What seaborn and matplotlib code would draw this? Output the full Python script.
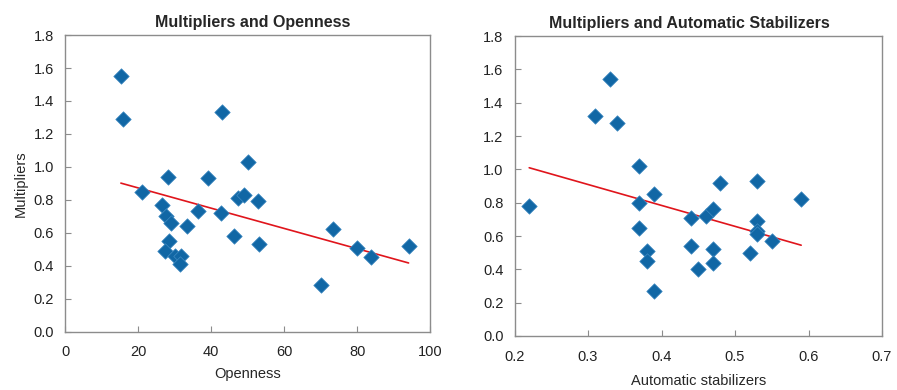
import numpy as np
import pandas as pd
import matplotlib
matplotlib.use("Agg")
import matplotlib.pyplot as plt
import seaborn as sns
from matplotlib import font_manager

# ---------------- data ----------------
openness = [15.3, 16.0, 21.0, 28.1, 26.5, 27.7, 29.1, 28.6, 27.4, 30.2, 31.9, 31.6,
            33.5, 36.4, 39.1, 42.9, 42.7, 46.3, 47.4, 49.0, 50.1, 52.8, 53.2,
            70.1, 73.5, 80.1, 83.9, 94.1]
mult_open = [1.55, 1.29, 0.85, 0.94, 0.77, 0.70, 0.66, 0.55, 0.49, 0.46, 0.46, 0.41,
             0.64, 0.73, 0.93, 1.33, 0.72, 0.58, 0.81, 0.83, 1.03, 0.79, 0.53,
             0.28, 0.62, 0.51, 0.45, 0.52]

stabilizers = [0.22, 0.31, 0.33, 0.34, 0.37, 0.37, 0.39, 0.37, 0.38, 0.38, 0.39,
               0.44, 0.44, 0.45, 0.46, 0.47, 0.47, 0.47, 0.48, 0.52, 0.53, 0.53,
               0.53, 0.53, 0.55, 0.59]
mult_stab = [0.78, 1.32, 1.54, 1.28, 1.02, 0.80, 0.85, 0.65, 0.51, 0.45, 0.27,
             0.71, 0.54, 0.40, 0.72, 0.76, 0.52, 0.44, 0.92, 0.50, 0.93, 0.69,
             0.63, 0.61, 0.57, 0.82]

titles = ["Multipliers and Openness", "Multipliers and Automatic Stabilizers"]
xlabels = ["Openness", "Automatic stabilizers"]
ylabel = "Multipliers"
yticks = [0.0, 0.2, 0.4, 0.6, 0.8, 1.0, 1.2, 1.4, 1.6, 1.8]
xticks_left = [0, 20, 40, 60, 80, 100]
xticks_right = [0.2, 0.3, 0.4, 0.5, 0.6, 0.7]

# ---------------- style ----------------
sns.set_style("white")
names = {f.name for f in font_manager.fontManager.ttflist}
fam = ["Liberation Sans Narrow", "Liberation Sans", "DejaVu Sans"]
fam = [f for f in fam if f in names] or ["DejaVu Sans"]
plt.rcParams["font.family"] = fam

MARK = "#1167a5"
LINE = "#e0151c"
GREY = "#8c8c8c"

fig = plt.figure(figsize=(8.97, 3.90), dpi=100)
axL = fig.add_axes([0.0725, 0.150, 0.407, 0.760])
axR = fig.add_axes([0.5736, 0.1385, 0.4097, 0.769])

df_l = pd.DataFrame({"x": openness, "y": mult_open})
df_r = pd.DataFrame({"x": stabilizers, "y": mult_stab})

for ax, df, title, xl, xt, xfmt, tx, lp in [
    (axL, df_l, titles[0], xlabels[0], xticks_left, "{:.0f}", 0.515, 5.5),
    (axR, df_r, titles[1], xlabels[1], xticks_right, "{:.1f}", 0.475, 7.5),
]:
    sns.regplot(data=df, x="x", y="y", ax=ax, scatter=False, ci=None,
                line_kws=dict(color=LINE, lw=1.2, zorder=3))
    sns.scatterplot(data=df, x="x", y="y", ax=ax, marker="D", s=62,
                    color=MARK, edgecolor="#3f8ac2", linewidth=0.5, zorder=4)
    ax.set_xlim(xt[0], xt[-1])
    ax.set_ylim(0, 1.8)
    ax.set_xticks(xt)
    ax.set_xticklabels([xfmt.format(v) for v in xt])
    ax.set_yticks(yticks)
    ax.set_yticklabels([f"{v:.1f}" for v in yticks])
    ax.tick_params(direction="in", length=4, width=0.8, color=GREY,
                   labelsize=10.5, labelcolor="#222222")
    ax.tick_params(axis="y", left=True, right=False, pad=8)
    ax.tick_params(axis="x", bottom=True, top=False, pad=10)
    for sp in ax.spines.values():
        sp.set_color(GREY)
        sp.set_linewidth(1.0)
    ax.set_title(title, fontsize=11.5, fontweight="bold", pad=6, x=tx)
    ax.set_xlabel(xl, fontsize=10.5, labelpad=lp)
    ax.set_ylabel("")

axL.set_ylabel(ylabel, fontsize=10.5, labelpad=4)

fig.savefig("out.png", dpi=100)
